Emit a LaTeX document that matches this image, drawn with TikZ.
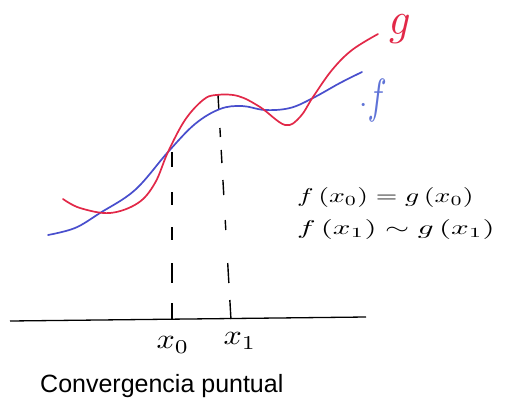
\documentclass[tikz,border=0pt]{standalone}
\usepackage{graphicx}
\usepackage{fontspec}
\newfontfamily\capfont{Liberation Sans}
\definecolor{gred}{RGB}{226,40,72}
\definecolor{fblue}{RGB}{72,78,205}
\definecolor{flabel}{RGB}{95,115,215}
\begin{document}
\begin{tikzpicture}[x=1pt,y=-1pt,
  curve/.style={line width=1.7pt,line cap=round},
  guide/.style={line width=1.4pt,line cap=butt},
  lbl/.style={inner sep=0pt}]
\useasboundingbox[fill=white] (0,0) rectangle (506,402);
% axis
\coordinate (axL) at (10,321);
\coordinate (axR) at (366,317);
\draw[line width=1.3pt] (axL) -- (axR);
% dashed line at x0
\foreach \a/\b in {152/167,192/205,227/240,263/283,303/320}
  \draw[guide] (172,\a) -- (172,\b);
% dashed line at x1
\foreach \a/\b in {95/110,128/137,150/163,180/195,220/230,263/283,300/319}
  \draw[guide] ({218+13*(\a-95)/225},\a) -- ({218+13*(\b-95)/225},\b);
% curve f (blue)
\draw[curve,fblue] plot[smooth,tension=0.6] coordinates {
 (48,235) (75,228) (100,213) (135,190) (168,152) (195,124) (220,109)
 (242,106) (265,110) (290,108) (313,98) (340,83) (362,72)};
% curve g (red)
\draw[curve,gred] plot[smooth,tension=0.6] coordinates {
 (63,199) (80,208) (110,213) (138,203) (155,183) (168,152) (185,120)
 (203,100) (216,95) (238,96) (260,107) (285,125) (300,117) (313,97)
 (332,70) (352,50) (378,34)};
% labels
\node[lbl,text=gred] (lg) at (400,29) {\scalebox{4.2}[4.6]{$g$}};
\node[lbl,text=flabel] (lf) at (373,100) {\scalebox{3}{$\cdot$}\scalebox{3.2}[4.8]{$f$}};
\node[lbl,anchor=west] (eq1) at (297,197) {\scalebox{2.77}[2.0]{$f\,(x_0)\;{=}\;g\,(x_0)$}};
\node[lbl,anchor=west] (eq2) at (297,229) {\scalebox{3.1}[2.0]{$f\,(x_1)\;{\sim}\;g\,(x_1)$}};
\node[lbl] (x0) at (173,345) {\scalebox{3.2}[2.8]{$x_0$}};
\node[lbl] (x1) at (240,341) {\scalebox{3.2}[2.8]{$x_1$}};
\node[lbl,anchor=base west] (cap) at (40,392) {\capfont\fontsize{25}{28}\selectfont Convergencia puntual};
\end{tikzpicture}
\end{document}
